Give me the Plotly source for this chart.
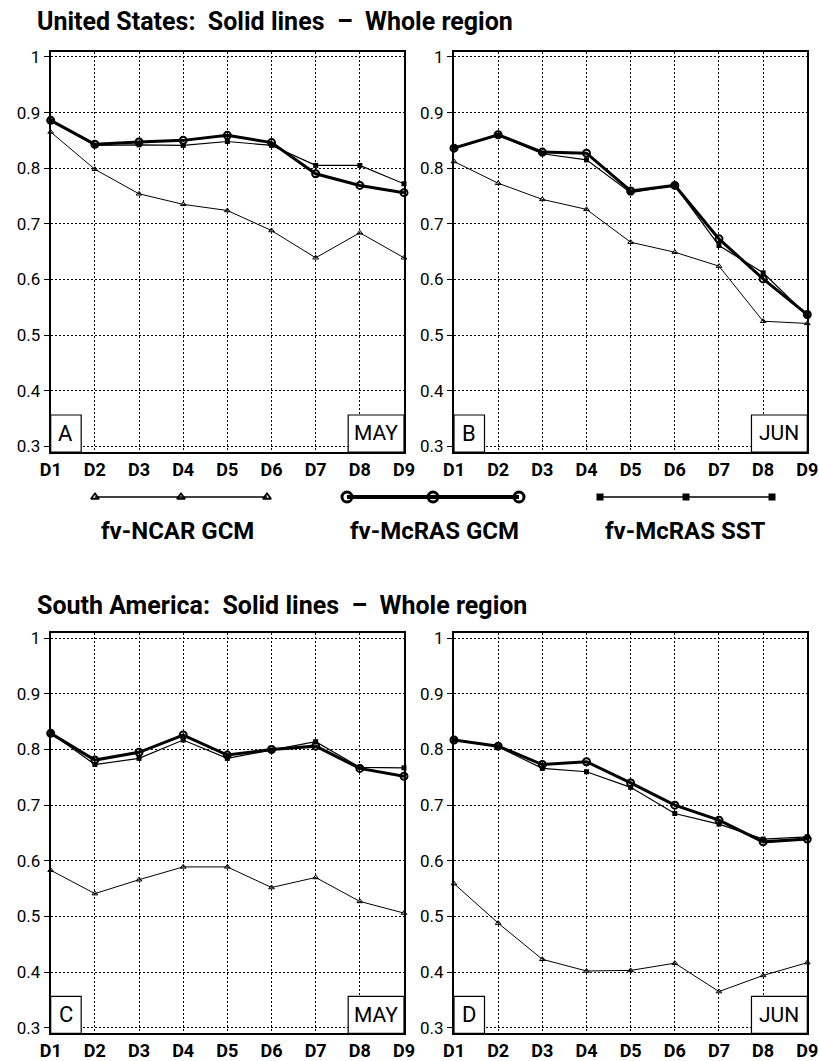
import plotly.graph_objects as go

W, H = 819, 1061

days = ["D1", "D2", "D3", "D4", "D5", "D6", "D7", "D8", "D9"]
x_idx = [1, 2, 3, 4, 5, 6, 7, 8, 9]

# United States, May
us_may_ncar = [0.865, 0.798, 0.754, 0.735, 0.724, 0.688, 0.639, 0.684, 0.639]
us_may_mcras_gcm = [0.886, 0.843, 0.847, 0.850, 0.859, 0.846, 0.790, 0.769, 0.756]
us_may_mcras_sst = [0.885, 0.841, 0.842, 0.841, 0.848, 0.841, 0.805, 0.805, 0.772]

# United States, June
us_jun_ncar = [0.812, 0.773, 0.744, 0.726, 0.667, 0.649, 0.624, 0.525, 0.521]
us_jun_mcras_gcm = [0.836, 0.860, 0.829, 0.827, 0.759, 0.769, 0.673, 0.601, 0.537]
us_jun_mcras_sst = [0.836, 0.859, 0.826, 0.815, 0.756, 0.769, 0.661, 0.612, 0.535]

# South America, May
sa_may_ncar = [0.583, 0.541, 0.566, 0.589, 0.589, 0.552, 0.570, 0.527, 0.506]
sa_may_mcras_gcm = [0.829, 0.781, 0.795, 0.826, 0.790, 0.800, 0.806, 0.766, 0.752]
sa_may_mcras_sst = [0.830, 0.773, 0.784, 0.817, 0.784, 0.799, 0.814, 0.768, 0.767]

# South America, June
sa_jun_ncar = [0.559, 0.488, 0.423, 0.402, 0.403, 0.416, 0.365, 0.394, 0.417]
sa_jun_mcras_gcm = [0.817, 0.806, 0.773, 0.778, 0.740, 0.700, 0.673, 0.634, 0.639]
sa_jun_mcras_sst = [0.817, 0.805, 0.766, 0.760, 0.732, 0.685, 0.666, 0.639, 0.643]

y_ticks = [0.3, 0.4, 0.5, 0.6, 0.7, 0.8, 0.9, 1.0]
y_ticktext = ["0.3", "0.4", "0.5", "0.6", "0.7", "0.8", "0.9", "1"]

series_names = ["fv-NCAR GCM", "fv-McRAS GCM", "fv-McRAS SST"]
panel_letters = ["A", "B", "C", "D"]
panel_months = ["MAY", "JUN", "MAY", "JUN"]
titles = ["United States:  Solid lines  –  Whole region",
          "South America:  Solid lines  –  Whole region"]

panels = [
    (us_may_ncar, us_may_mcras_gcm, us_may_mcras_sst),
    (us_jun_ncar, us_jun_mcras_gcm, us_jun_mcras_sst),
    (sa_may_ncar, sa_may_mcras_gcm, sa_may_mcras_sst),
    (sa_jun_ncar, sa_jun_mcras_gcm, sa_jun_mcras_sst),
]

FONT = "Roboto, Liberation Sans, DejaVu Sans, sans-serif"


def px_x(p):
    return p / W


def px_y(p):
    return 1 - p / H


# frame pixel boxes: (left, right, top, bottom)
frames = [
    (50.7, 404.0, 52.0, 452.0),
    (454.0, 807.3, 52.0, 452.0),
    (50.7, 404.0, 633.3, 1033.3),
    (454.0, 807.3, 633.3, 1033.3),
]

styles = [
    dict(line=dict(color="black", width=1),
         marker=dict(symbol="triangle-up-open", size=5, color="black",
                     line=dict(width=1, color="black"))),
    dict(line=dict(color="black", width=3),
         marker=dict(symbol="circle-open", size=7, color="black",
                     line=dict(width=2, color="black"))),
    dict(line=dict(color="black", width=1.2),
         marker=dict(symbol="square", size=5, color="black")),
]

GRID_DASH = "2px,2px"

fig = go.Figure()

layout_axes = {}
for i, (vals, (l, r, t, b)) in enumerate(zip(panels, frames)):
    n = i + 1
    xa = "x" if n == 1 else f"x{n}"
    ya = "y" if n == 1 else f"y{n}"
    for k in (0, 2, 1):
        fig.add_trace(go.Scatter(
            x=x_idx, y=vals[k], xaxis=xa, yaxis=ya, mode="lines+markers",
            name=series_names[k], showlegend=False, cliponaxis=False,
            **styles[k]))
    xkey = "xaxis" if n == 1 else f"xaxis{n}"
    ykey = "yaxis" if n == 1 else f"yaxis{n}"
    layout_axes[xkey] = dict(
        domain=[px_x(l), px_x(r)], range=[1, 9], anchor=ya, automargin=False,
        tickmode="array", tickvals=x_idx, ticktext=days,
        showgrid=True, gridcolor="black", gridwidth=1, griddash=GRID_DASH,
        showline=True, linecolor="black", linewidth=2, mirror=True,
        ticks="", zeroline=False,
        tickfont=dict(family=FONT, size=18, color="black", weight="bold"),
    )
    layout_axes[ykey] = dict(
        domain=[px_y(b), px_y(t)], range=[0.29, 1.0088], anchor=xa,
        automargin=False,
        tickmode="array", tickvals=y_ticks, ticktext=y_ticktext,
        showgrid=True, gridcolor="black", gridwidth=1, griddash=GRID_DASH,
        showline=True, linecolor="black", linewidth=2, mirror=True,
        ticks="outside", ticklen=5, tickwidth=1, tickcolor="black",
        zeroline=False,
        tickfont=dict(family=FONT, size=17, color="black"),
    )

# legend strip drawn on its own hidden axes, in pixel units across the page
legend_x = [[95, 181, 267], [347, 433, 519], [600, 686, 772]]
legend_label_x = [177, 434, 685]
legend_styles = [
    dict(line=dict(color="black", width=1.3),
         marker=dict(symbol="triangle-up-open", size=7, color="black",
                     line=dict(width=1.8, color="black"))),
    dict(line=dict(color="black", width=4),
         marker=dict(symbol="circle-open", size=10, color="black",
                     line=dict(width=3, color="black"))),
    dict(line=dict(color="black", width=1.3),
         marker=dict(symbol="square", size=7, color="black")),
]
for k in range(3):
    fig.add_trace(go.Scatter(
        x=legend_x[k], y=[0, 0, 0], xaxis="x5", yaxis="y5",
        mode="lines+markers", showlegend=False, cliponaxis=False,
        hoverinfo="skip", **legend_styles[k]))
layout_axes["xaxis5"] = dict(domain=[0, 1], range=[0, W], visible=False,
                             anchor="y5", fixedrange=True, automargin=False)
layout_axes["yaxis5"] = dict(domain=[px_y(507), px_y(487)], range=[-1, 1],
                             visible=False, anchor="x5", fixedrange=True,
                             automargin=False)

annotations = []
for k in range(3):
    annotations.append(dict(
        x=px_x(legend_label_x[k]), y=px_y(531), xref="paper", yref="paper",
        text=series_names[k], showarrow=False, xanchor="center", yanchor="middle",
        font=dict(family=FONT, size=24, color="black", weight="bold")))

for j, ty in enumerate([21, 605]):
    annotations.append(dict(
        x=px_x(35), y=px_y(ty), xref="paper", yref="paper",
        text=titles[j], showarrow=False, xanchor="left", yanchor="middle",
        font=dict(family=FONT, size=25, color="black", weight="bold")))

shapes = []
for i in range(4):
    n = i + 1
    xa = "x" if n == 1 else f"x{n}"
    ya = "y" if n == 1 else f"y{n}"
    box_h = 37 / 400
    letter_w = 30.5 / 353.3
    month_x0 = 0.842
    shapes.append(dict(type="rect", xref=f"{xa} domain", yref=f"{ya} domain",
                       x0=0, x1=letter_w, y0=0, y1=box_h, layer="above",
                       fillcolor="white", line=dict(color="black", width=1.2)))
    shapes.append(dict(type="rect", xref=f"{xa} domain", yref=f"{ya} domain",
                       x0=month_x0, x1=1, y0=0, y1=box_h, layer="above",
                       fillcolor="white", line=dict(color="black", width=1.2)))
    annotations.append(dict(
        x=letter_w / 2, y=box_h / 2, xref=f"{xa} domain", yref=f"{ya} domain",
        text=panel_letters[i], showarrow=False, xanchor="center", yanchor="middle",
        font=dict(family=FONT, size=22, color="black")))
    annotations.append(dict(
        x=(month_x0 + 1) / 2, y=box_h / 2, xref=f"{xa} domain", yref=f"{ya} domain",
        text=panel_months[i], showarrow=False, xanchor="center", yanchor="middle",
        font=dict(family=FONT, size=21, color="black")))

fig.update_layout(
    width=W, height=H,
    margin=dict(l=0, r=0, t=0, b=0, autoexpand=False),
    paper_bgcolor="white", plot_bgcolor="white",
    showlegend=False,
    annotations=annotations,
    shapes=shapes,
    **layout_axes,
)

fig.write_html("out.html",
               post_script="document.body.style.margin='0px';"
                           "document.body.style.overflow='hidden';")
